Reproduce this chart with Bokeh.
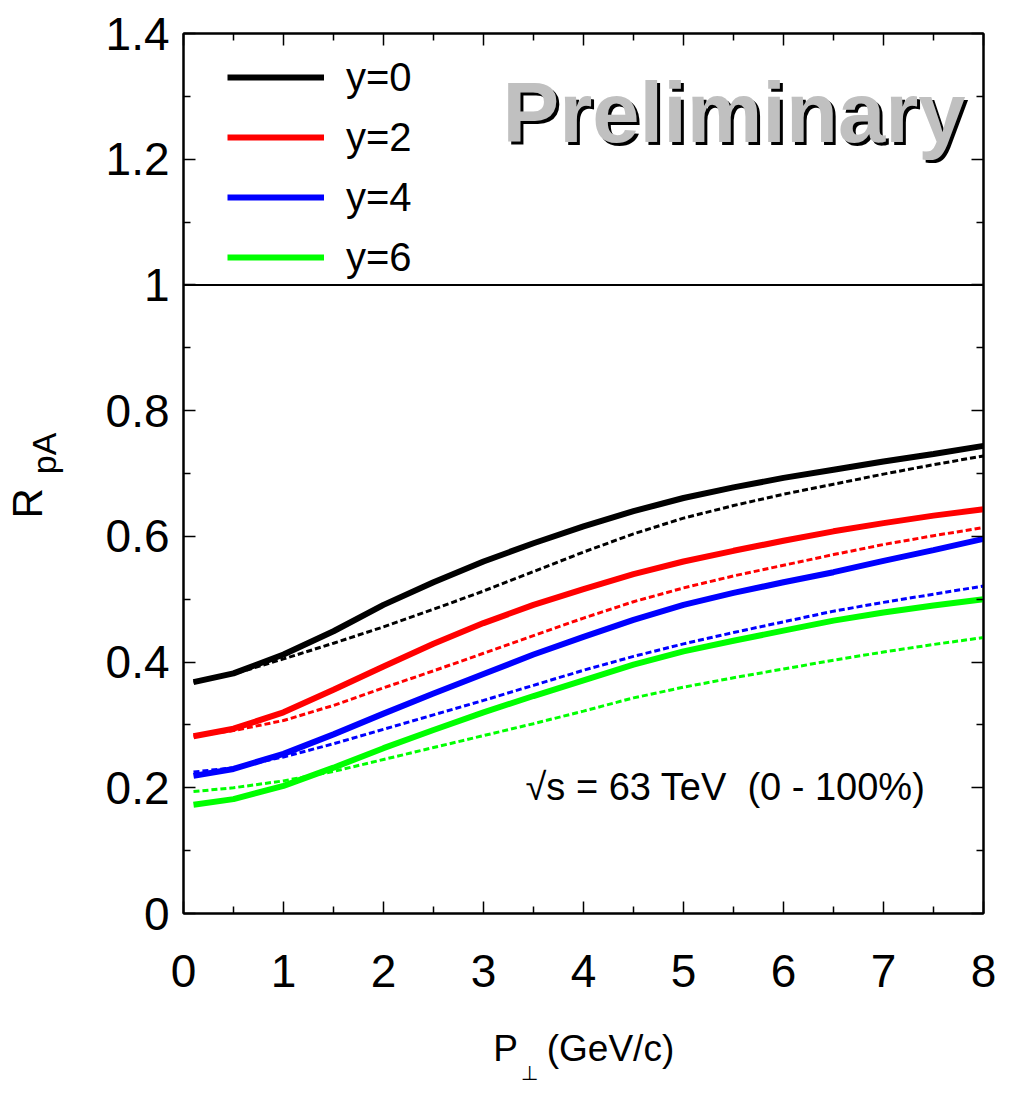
from bokeh.plotting import figure
from bokeh.models import (Range1d, LinearAxis, FixedTicker, Span, Label, Legend,
                          LegendItem, CustomJSTickFormatter)
from bokeh.embed import file_html
from bokeh.resources import INLINE

# ---------------- data ----------------
pt = [0.1, 0.5, 1.0, 1.5, 2.0, 2.5, 3.0, 3.5, 4.0, 4.5, 5.0, 5.5, 6.0, 6.5, 7.0, 7.5, 8.0]

y0_solid = [0.368, 0.382, 0.412, 0.449, 0.491, 0.527, 0.560, 0.589, 0.616, 0.640, 0.661, 0.678, 0.693, 0.706, 0.719, 0.731, 0.744]
y0_dash = [0.368, 0.381, 0.405, 0.430, 0.456, 0.484, 0.513, 0.544, 0.575, 0.604, 0.629, 0.649, 0.667, 0.683, 0.699, 0.714, 0.728]
y2_solid = [0.282, 0.294, 0.320, 0.356, 0.393, 0.429, 0.462, 0.491, 0.516, 0.540, 0.560, 0.577, 0.593, 0.608, 0.621, 0.633, 0.643]
y2_dash = [0.282, 0.291, 0.307, 0.331, 0.359, 0.386, 0.414, 0.442, 0.470, 0.496, 0.518, 0.537, 0.554, 0.571, 0.587, 0.601, 0.614]
y4_solid = [0.219, 0.230, 0.254, 0.285, 0.318, 0.350, 0.381, 0.412, 0.440, 0.467, 0.491, 0.510, 0.527, 0.543, 0.561, 0.578, 0.596]
y4_dash = [0.225, 0.232, 0.249, 0.270, 0.293, 0.316, 0.339, 0.363, 0.387, 0.409, 0.429, 0.447, 0.464, 0.481, 0.495, 0.508, 0.521]
y6_solid = [0.173, 0.182, 0.203, 0.232, 0.263, 0.292, 0.320, 0.346, 0.371, 0.396, 0.417, 0.434, 0.450, 0.466, 0.479, 0.490, 0.500]
y6_dash = [0.194, 0.200, 0.211, 0.226, 0.245, 0.264, 0.283, 0.302, 0.322, 0.343, 0.360, 0.375, 0.389, 0.403, 0.416, 0.428, 0.439]

series_labels = ["y=0", "y=2", "y=4", "y=6"]
series_colors = ["#000000", "#ff0000", "#0000ff", "#00ff00"]
solid_series = [y0_solid, y2_solid, y4_solid, y6_solid]
dashed_series = [y0_dash, y2_dash, y4_dash, y6_dash]

x_major_ticks = [0, 1, 2, 3, 4, 5, 6, 7, 8]
x_minor_ticks = [0.5, 1.5, 2.5, 3.5, 4.5, 5.5, 6.5, 7.5]
y_major_ticks = [0, 0.2, 0.4, 0.6, 0.8, 1.0, 1.2, 1.4]
y_minor_ticks = [0.1, 0.3, 0.5, 0.7, 0.9, 1.1, 1.3]

x_title_parts = ["P", "(GeV/c)"]
x_title_sub = ["\u22a5"]
y_title_main = ["R"]
y_title_sub = ["pA"]
annotation_text = "\u221as = 63 TeV \u00a0(0 - 100%)"
watermark_text = "Preliminary"

REG = "Liberation Sans, Arial, Helvetica, sans-serif"

# ---------------- figure ----------------
p = figure(width=1015, height=1094, output_backend="svg", toolbar_location=None,
           x_range=Range1d(0, 8), y_range=Range1d(0, 1.4),
           min_border_left=183, min_border_right=32, min_border_top=33, min_border_bottom=181)
p.xgrid.visible = False
p.ygrid.visible = False
p.outline_line_color = "black"
p.outline_line_width = 2
p.background_fill_color = "white"
p.border_fill_color = "white"

yfmt = CustomJSTickFormatter(code="var s = tick.toFixed(1); return s.endsWith('.0') ? s.slice(0, -2) : s;")
blank = CustomJSTickFormatter(code="return '';")


def style_axis(ax, ticks, minor, show_labels, standoff):
    ax.ticker = FixedTicker(ticks=ticks, minor_ticks=minor)
    ax.axis_line_color = "black"
    ax.axis_line_width = 2
    ax.major_tick_in = 12
    ax.major_tick_out = 0
    ax.minor_tick_in = 7
    ax.minor_tick_out = 0
    ax.major_tick_line_width = 1.5
    ax.minor_tick_line_width = 1.5
    ax.major_tick_line_color = "black"
    ax.minor_tick_line_color = "black"
    ax.major_label_text_font = REG
    ax.major_label_text_color = "black"
    ax.major_label_text_font_size = "46px"
    ax.major_label_standoff = standoff
    ax.axis_label = None
    if not show_labels:
        ax.formatter = blank
        ax.major_label_text_color = None
        ax.major_label_text_font_size = "1px"


style_axis(p.xaxis[0], x_major_ticks, x_minor_ticks, True, 41)
style_axis(p.yaxis[0], y_major_ticks, y_minor_ticks, True, 14)
p.yaxis[0].formatter = yfmt

top_ax = LinearAxis()
right_ax = LinearAxis()
style_axis(top_ax, x_major_ticks, x_minor_ticks, False, 0)
style_axis(right_ax, y_major_ticks, y_minor_ticks, False, 0)
p.add_layout(top_ax, "above")
p.add_layout(right_ax, "right")


def title_axis(ticks, labels, font, size, standoff, orientation):
    """An axis with no line and no ticks that only carries pieces of an axis title."""
    return LinearAxis(
        ticker=FixedTicker(ticks=ticks, minor_ticks=[]),
        formatter=CustomJSTickFormatter(args=dict(labels=labels), code="return labels[index];"),
        axis_line_color=None, major_tick_line_color=None, minor_tick_line_color=None,
        major_tick_in=0, major_tick_out=0, minor_tick_in=0, minor_tick_out=0,
        major_label_standoff=standoff, major_label_text_font=font,
        major_label_text_font_size=size, major_label_text_color="black",
        major_label_orientation=orientation)


# x-axis title: P⊥ (GeV/c)  (⊥ subscript sits lowest; P and (GeV/c) pulled back up)
p.add_layout(title_axis([3.46], x_title_sub, "DejaVu Sans", "20px", 71, "horizontal"), "below")
p.add_layout(title_axis([3.22, 4.27], x_title_parts, REG, "37px", -60, "horizontal"), "below")

# y-axis title: R_pA
p.add_layout(title_axis([0.732], y_title_sub, REG, "34px", 39, "vertical"), "left")
p.add_layout(title_axis([0.6526], y_title_main, REG, "42px", -29, "vertical"), "left")

# reference line at R = 1
p.add_layout(Span(location=1.0, dimension="width", line_color="black", line_width=2))

# ---------------- curves ----------------
items = []
for lab, col, ys, yd in zip(series_labels, series_colors, solid_series, dashed_series):
    p.line(pt, yd, line_color=col, line_width=3, line_dash="6 3")
    r = p.line(pt, ys, line_color=col, line_width=6)
    items.append(LegendItem(label=lab, renderers=[r]))

legend = Legend(items=items, location=(44, 626), glyph_width=97, glyph_height=60,
                label_height=60, label_standoff=22, spacing=0, padding=0, margin=0,
                border_line_alpha=0, background_fill_alpha=0,
                label_text_font=REG, label_text_font_size="40px",
                label_text_color="black", label_text_baseline="middle")
p.add_layout(legend)

# ---------------- annotations ----------------
p.add_layout(Label(x=7.85, y=1.2702, text=watermark_text, text_align="right",
                   text_baseline="alphabetic", text_font=REG, text_font_size="85px",
                   text_font_style="bold", text_color="black"))
p.add_layout(Label(x=7.82, y=1.2750, text=watermark_text, text_align="right",
                   text_baseline="alphabetic", text_font=REG, text_font_size="85px",
                   text_font_style="bold", text_color="#c0c0c0"))

p.add_layout(Label(x=5.42, y=0.202, text=annotation_text, text_align="center",
                   text_baseline="alphabetic", text_font=REG, text_font_size="38px",
                   text_color="black"))

open("out.html", "w").write(file_html(p, INLINE))
